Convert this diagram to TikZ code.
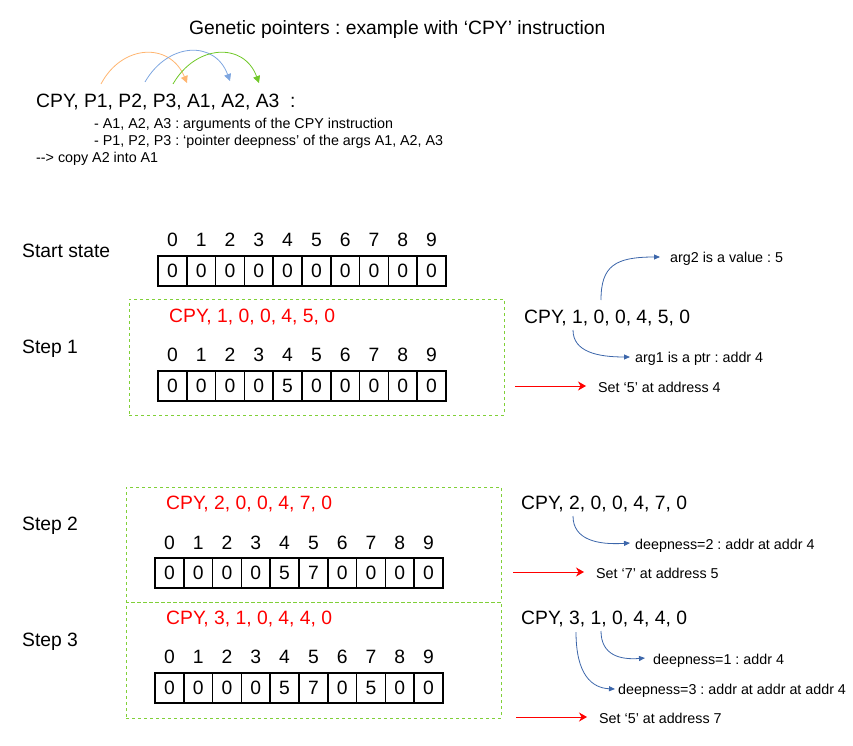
\documentclass[tikz,border=0pt]{standalone}
\usepackage{fontspec}
\setmainfont{Liberation Sans}
\usetikzlibrary{arrows.meta}
\frenchspacing
\definecolor{boxgreen}{RGB}{128,208,56}
\definecolor{arrorange}{RGB}{255,181,112}
\definecolor{arrblue}{RGB}{126,166,224}
\definecolor{arrgreen}{RGB}{112,200,40}
\definecolor{noteblue}{RGB}{60,102,170}
\newcommand{\drawmem}[5]{%
  \foreach \v [count=\i from 0] in {#5} {
    \node[cell] (#1c\i) at ({#2+14.4+28.8*\i},#4) {\v};
    \node[idx] (#1i\i) at ({#2+14.4+28.8*\i},#3) {\i};
  }}
\begin{document}
\begin{tikzpicture}[x=1pt,y=-1pt,
  big/.style={font=\fontsize{19.3}{22}\selectfont, inner sep=0pt, text height=13.8pt, text depth=0pt},
  small/.style={font=\fontsize{14.3}{17}\selectfont, inner sep=0pt, text height=10.2pt, text depth=0pt},
  cell/.style={big, draw, line width=1.5pt, minimum width=28.8pt, minimum height=30pt},
  idx/.style={big},
  redtxt/.style={big, text=red, anchor=west},
  lbl/.style={small, anchor=west},
  stepbox/.style={draw=boxgreen, line width=1pt, dash pattern=on 3pt off 3pt, inner sep=0pt},
  note/.style={draw=noteblue, line width=0.8pt, -{Triangle[length=6pt,width=5pt]}},
  redarr/.style={draw=red, line width=0.8pt, -{Stealth[length=8pt,width=9pt,inset=2.5pt]}},
]
\useasboundingbox (0,0) rectangle (853,746);

% header
\node[big, anchor=west] (title) at (189,28) {Genetic pointers : example with ‘CPY’ instruction};
\node[big, anchor=west] (fmt) at (36,101) {CPY, P1, P2, P3, A1, A2, A3\ \ :};
\node[lbl] (d1) at (94,123) {- A1, A2, A3 : arguments of the CPY instruction};
\node[lbl] (d2) at (94,140) {- P1, P2, P3 : ‘pointer deepness’ of the args A1, A2, A3};
\node[lbl] (d3) at (36,157) {-{}-> copy A2 into A1};

\coordinate (p1) at (101,84);
\coordinate (a1) at (187,83);
\coordinate (p2) at (145,82);
\coordinate (a2) at (230,81);
\coordinate (p3) at (173,84);
\coordinate (a3) at (259,83);
\draw[arrorange, line width=0.8pt, -{Triangle[length=7pt,width=7pt]}] (p1) .. controls (122,44) and (170,42) .. (a1);
\draw[arrblue, line width=0.8pt, -{Triangle[length=7pt,width=7pt]}] (p2) .. controls (168,42) and (215,40) .. (a2);
\draw[arrgreen, line width=0.8pt, -{Triangle[length=7pt,width=7pt]}] (p3) .. controls (196,44) and (244,42) .. (a3);

% step labels
\node[big, anchor=west] (lstart) at (22,251) {Start state};
\node[big, anchor=west] (l1) at (22,347) {Step 1};
\node[big, anchor=west] (l2) at (22,524) {Step 2};
\node[big, anchor=west] (l3) at (22,640) {Step 3};

% boxes
\node[stepbox, minimum width=375pt, minimum height=116pt] (box1) at (316.5,357) {};
\node[stepbox, minimum width=375pt, minimum height=115pt] (box2) at (313.5,544.5) {};
\node[stepbox, minimum width=375pt, minimum height=116pt] (box3) at (313.5,660) {};

% red instructions
\node[redtxt] (r1) at (169,316) {CPY, 1, 0, 0, 4, 5, 0};
\node[redtxt] (r2) at (166,503) {CPY, 2, 0, 0, 4, 7, 0};
\node[redtxt] (r3) at (166,618) {CPY, 3, 1, 0, 4, 4, 0};

% memory arrays
\drawmem{s}{158}{240}{271}{0,0,0,0,0,0,0,0,0,0}
\drawmem{a}{158}{355}{386}{0,0,0,0,5,0,0,0,0,0}
\drawmem{b}{155}{543}{573}{0,0,0,0,5,7,0,0,0,0}
\drawmem{c}{155}{657}{688}{0,0,0,0,5,7,0,5,0,0}

% right side step 1
\node[big, anchor=west] (i1) at (524,317) {CPY, 1, 0, 0, 4, 5, 0};
\node[lbl] (n1a) at (670,257) {arg2 is a value : 5};
\node[lbl] (n1b) at (635,357) {arg1 is a ptr : addr 4};
\node[lbl] (e1) at (598,387) {Set ‘5’ at address 4};
\coordinate (q1a) at (601,300);
\coordinate (q1b) at (573,330);
\draw[note] (q1a) .. controls (601,266) and (615,257) .. ([xshift=-10pt]n1a.west);
\draw[note] (q1b) .. controls (573,352) and (598,357) .. ([xshift=-5pt]n1b.west);
\coordinate (t1) at (515,386);
\draw[redarr] (t1) -- ([xshift=-12pt]t1 -| e1.west);

% right side step 2
\node[big, anchor=west] (i2) at (521,503) {CPY, 2, 0, 0, 4, 7, 0};
\node[lbl] (n2a) at (635,544) {deepness=2 : addr at addr 4};
\node[lbl] (e2) at (596,573) {Set ‘7’ at address 5};
\coordinate (q2a) at (573,516);
\draw[note] (q2a) .. controls (573,540) and (598,545) .. ([xshift=-5pt,yshift=1pt]n2a.west);
\coordinate (t2) at (513,572);
\draw[redarr] (t2) -- ([xshift=-12pt]t2 -| e2.west);

% right side step 3
\node[big, anchor=west] (i3) at (521,618) {CPY, 3, 1, 0, 4, 4, 0};
\node[lbl] (n3a) at (653,659) {deepness=1 : addr 4};
\node[lbl] (n3b) at (618,689) {deepness=3 : addr at addr at addr 4};
\node[lbl] (e3) at (599,718) {Set ‘5’ at address 7};
\coordinate (q3a) at (601,631);
\coordinate (q3b) at (576,632);
\draw[note] (q3a) .. controls (601,655) and (620,660) .. ([xshift=-8pt,yshift=1pt]n3a.west);
\draw[note] (q3b) .. controls (576,675) and (592,688) .. ([xshift=-3pt]n3b.west);
\coordinate (t3) at (516,717);
\draw[redarr] (t3) -- ([xshift=-12pt]t3 -| e3.west);
\end{tikzpicture}
\end{document}
